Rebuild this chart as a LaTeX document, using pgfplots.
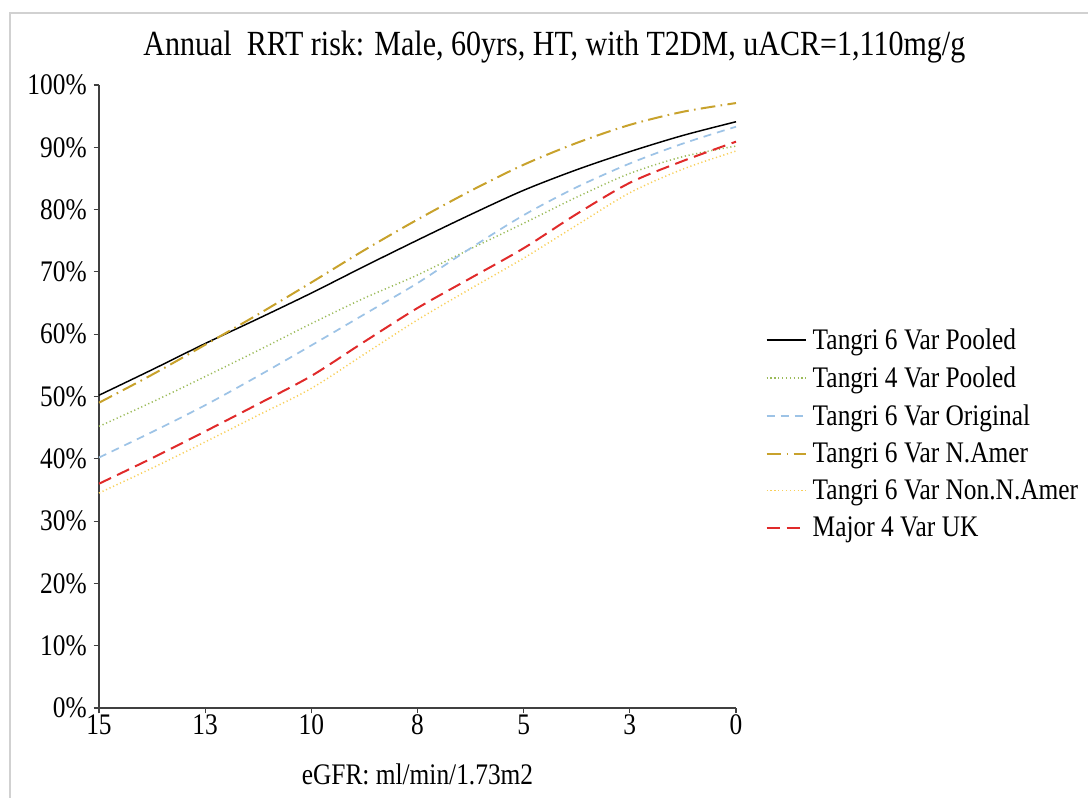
\documentclass[border=0pt]{standalone}
\usepackage{fontspec}
\setmainfont[FakeStretch=0.85]{Liberation Serif}
\usepackage{pgfplots}
\pgfplotsset{compat=1.18}
\definecolor{cblack}{HTML}{000000}
\definecolor{cgreen}{HTML}{9BBB59}
\definecolor{cblue}{HTML}{9DC3E6}
\definecolor{cgold}{HTML}{C8A22C}
\definecolor{cyellow}{HTML}{F8CF5A}
\definecolor{cred}{HTML}{E02A2A}
\begin{document}
\begin{tikzpicture}
\begin{axis}[
  at={(0,0)}, anchor=south west,
  scale only axis,
  width=477.75pt, height=467.25pt,
  xmin=0, xmax=15, ymin=0, ymax=100,
  x dir=reverse,
  axis lines*=left,
  axis line style={black!75, line width=0.8pt},
  tick align=outside,
  major tick length=4pt,
  tick style={black!75, line width=0.8pt},
  xtick={15,12.5,10,7.5,5,2.5,0},
  xticklabels={15,13,10,8,5,3,0},
  ytick={0,10,20,30,40,50,60,70,80,90,100},
  yticklabels={0\%,10\%,20\%,30\%,40\%,50\%,60\%,70\%,80\%,90\%,100\%},
  /pgf/number format/assume math mode=true,
  ticklabel style={font=\fontsize{22.4}{26}\selectfont},
  xticklabel style={inner sep=1pt},
  yticklabel style={inner sep=2pt, xshift=-3pt},
  xlabel={eGFR: ml/min/1.73m2},
  xlabel style={font=\fontsize{22.4}{26}\selectfont, at={(axis description cs:0.5,0)}, anchor=center, yshift=-49.5pt},
  clip=false,
  legend cell align=left,
  legend style={draw=none, fill=none, at={(1.046,0.6138)}, anchor=north west,
    font=\fontsize{22.4}{26}\selectfont, row sep=7.5pt, inner sep=0pt,
    nodes={inner xsep=4pt}},
  legend image code/.code={\draw[#1] (0cm,0cm) -- (1.05cm,0cm);},
]
\addplot[cblack, line width=1.1pt, smooth] coordinates {
(15,50.2)(13.75,54.3)(12.5,58.5)(11.25,62.5)(10,66.6)(8.75,70.9)(7.5,75.1)(6.25,79.2)(5,83.1)(3.75,86.4)(2.5,89.3)(1.25,91.9)(0,94.1)};
\addlegendentry{Tangri 6 Var Pooled}
\addplot[cgreen, line width=1.1pt, dash pattern=on 0.9pt off 2pt, smooth] coordinates {
(15,45.2)(13.75,49.1)(12.5,53.2)(11.25,57.4)(10,61.7)(8.75,65.8)(7.5,69.5)(6.25,73.7)(5,77.8)(3.75,82.0)(2.5,85.8)(1.25,88.5)(0,90.2)};
\addlegendentry{Tangri 4 Var Pooled}
\addplot[cblue, line width=1.3pt, dash pattern=on 6pt off 4.5pt, smooth] coordinates {
(15,40.2)(13.75,44.3)(12.5,48.6)(11.25,53.3)(10,58.2)(8.75,63.2)(7.5,68.2)(6.25,73.8)(5,79.1)(3.75,83.6)(2.5,87.4)(1.25,90.6)(0,93.3)};
\addlegendentry{Tangri 6 Var Original}
\addplot[cgold, line width=1.5pt, dash pattern=on 11pt off 4pt on 1.2pt off 4pt, smooth] coordinates {
(15,49.0)(13.75,53.5)(12.5,58.3)(11.25,63.2)(10,68.3)(8.75,73.5)(7.5,78.4)(6.25,83.0)(5,87.2)(3.75,90.7)(2.5,93.6)(1.25,95.7)(0,97.1)};
\addlegendentry{Tangri 6 Var N.Amer}
\addplot[cyellow, line width=1.1pt, dash pattern=on 0.9pt off 2pt, smooth] coordinates {
(15,34.5)(13.75,38.5)(12.5,42.7)(11.25,47.0)(10,51.3)(8.75,56.8)(7.5,62.3)(6.25,67.3)(5,72.2)(3.75,77.5)(2.5,82.7)(1.25,86.5)(0,89.4)};
\addlegendentry{Tangri 6 Var Non.N.Amer}
\addplot[cred, line width=1.5pt, dash pattern=on 10pt off 5pt, smooth] coordinates {
(15,36.0)(13.75,40.1)(12.5,44.4)(11.25,48.8)(10,53.3)(8.75,58.8)(7.5,64.2)(6.25,69.0)(5,73.8)(3.75,79.3)(2.5,84.3)(1.25,87.8)(0,90.9)};
\addlegendentry{Major 4 Var UK}
\end{axis}
\node[font=\fontsize{26.5}{30}\selectfont] at (341.5pt,496pt) {Annual\ \ RRT risk: Male, 60yrs, HT, with T2DM, uACR=1,110mg/g};
\draw[black!18, line width=1pt] (-66.75pt,-67.5pt) -- (-66.75pt,521.25pt) -- (741.75pt,521.25pt);
\pgfresetboundingbox
\path[use as bounding box] (-74.25pt,-67.5pt) rectangle (741.75pt,531pt);
\end{tikzpicture}
\end{document}
